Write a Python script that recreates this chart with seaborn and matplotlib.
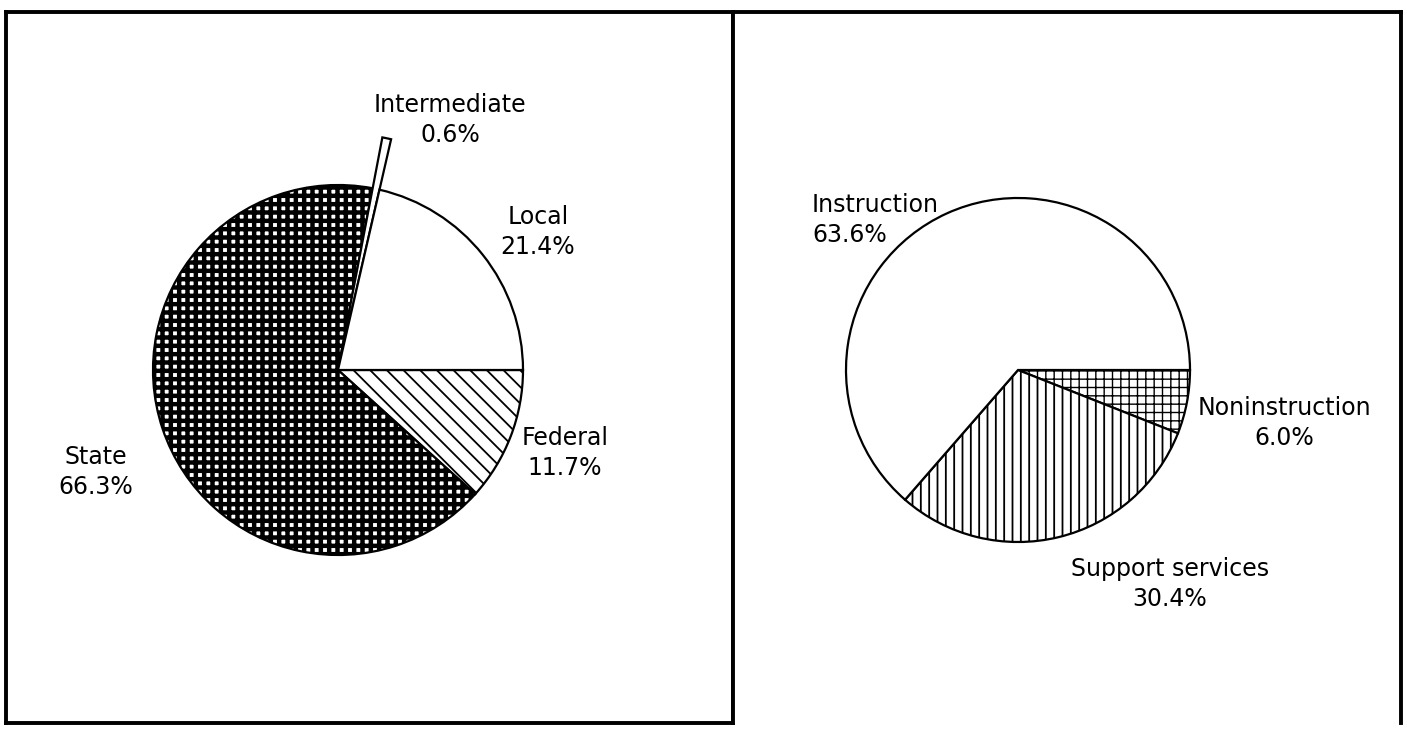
# Revenue sources and expenditure shares: two hatched pie charts side by side

import matplotlib
matplotlib.use("Agg")
import matplotlib.pyplot as plt
import seaborn as sns

# left pie: revenue by source (clockwise from 3 o'clock)
funding_labels = ["Federal", "State", "Intermediate", "Local"]
funding_shares = [11.7, 66.3, 0.6, 21.4]

# right pie: expenditure by function
spending_labels = ["Noninstruction", "Support services", "Instruction"]
spending_shares = [6.0, 30.4, 63.6]


def setup_style() -> None:
    sns.set_theme(style="white")
    plt.rcParams["font.family"] = ["DejaVu Sans"]
    plt.rcParams["hatch.color"] = "black"
    plt.rcParams["text.color"] = "black"


def draw_pie(ax, shares, hatches, hatch_lw, xlim, ylim):
    wedges, _ = ax.pie(
        shares,
        startangle=0,
        counterclock=False,
        radius=1.0,
        frame=True,
        colors=["white"] * len(shares),
        wedgeprops={"edgecolor": "black", "linewidth": 1.6},
    )
    for w, h, lw in zip(wedges, hatches, hatch_lw):
        w.set_hatch(h)
        if hasattr(w, "set_hatch_linewidth"):
            w.set_hatch_linewidth(lw)
    ax.set_xlim(*xlim)
    ax.set_ylim(*ylim)
    ax.set_aspect("equal")
    ax.set_xticks([])
    ax.set_yticks([])
    for s in ax.spines.values():
        s.set_visible(True)
        s.set_color("black")
        s.set_linewidth(2.8)
    return wedges


def label(ax, x, y, name, share, ha="center"):
    ax.text(x, y, f"{name}\n{share:.1f}%", ha=ha, va="center",
            fontsize=17, linespacing=1.3, color="black")


setup_style()
fig = plt.figure(figsize=(14.07, 7.29), dpi=100)
W, H = 1407, 729

# panels in pixel units (left, top, right, bottom)
ax_l = fig.add_axes([6 / W, 1 - 723 / H, (733 - 6) / W, (723 - 12) / H])
ax_r = fig.add_axes([733 / W, 1 - 723 / H, (1401 - 733) / W, (723 - 12) / H])

plt.rcParams["hatch.linewidth"] = 1.3
w_l = draw_pie(
    ax_l, funding_shares,
    ["\\\\", "++", "", ""],
    [1.3, 3.2, 1.0, 1.0],
    xlim=(-332 / 185, 395 / 185), ylim=(-353 / 185, 358 / 185),
)
# the intermediate sliver sticks out past the rim
w_l[2].set_radius(1.28)

w_r = draw_pie(
    ax_r, spending_shares,
    ["++", "||", ""],
    [1.0, 1.3, 1.0],
    xlim=(-285 / 172, 383 / 172), ylim=(-353 / 172, 358 / 172),
)
ax_r.spines["bottom"].set_visible(False)

label(ax_l, 0.605, 1.351, funding_labels[2], funding_shares[2])
label(ax_l, 1.081, 0.746, funding_labels[3], funding_shares[3])
label(ax_l, 1.227, -0.449, funding_labels[0], funding_shares[0])
label(ax_l, -1.308, -0.551, funding_labels[1], funding_shares[1])

label(ax_r, -1.198, 0.872, spending_labels[2], spending_shares[2], ha="left")
label(ax_r, 1.547, -0.308, spending_labels[0], spending_shares[0])
label(ax_r, 0.884, -1.244, spending_labels[1], spending_shares[1])

fig.savefig("out.png", dpi=100, facecolor="white")
